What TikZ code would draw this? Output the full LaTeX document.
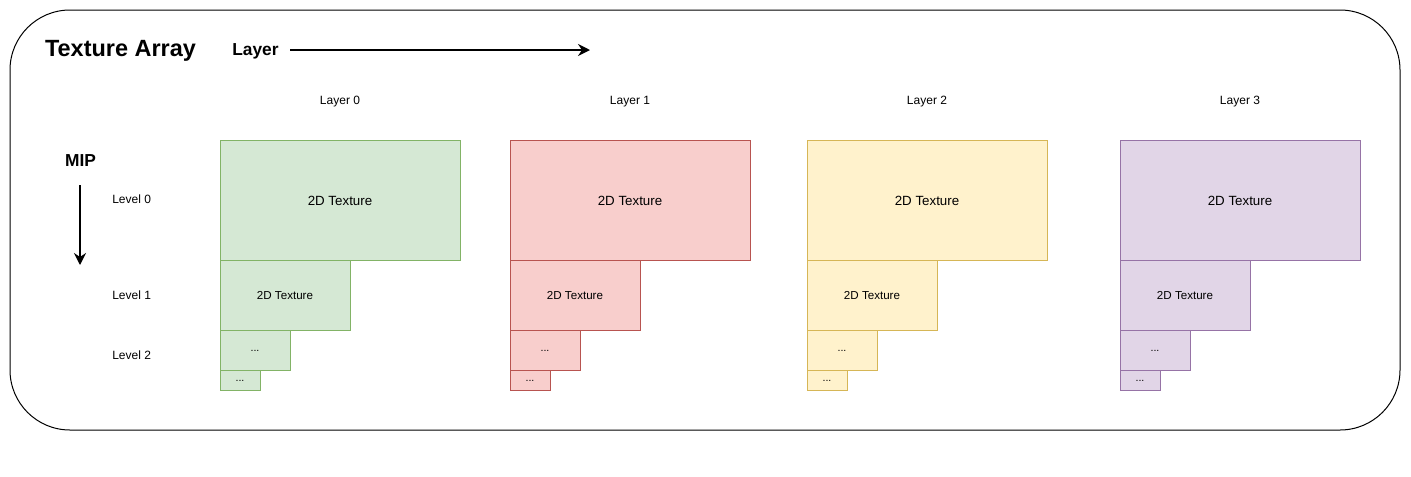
\documentclass[tikz,border=0pt]{standalone}
\usepackage{fontspec}
\setmainfont{Liberation Sans}
\usepackage{xcolor}
\usepackage{tikz}
\usetikzlibrary{arrows.meta}

\definecolor{grnfill}{HTML}{D5E8D4}
\definecolor{grnline}{HTML}{82B366}
\definecolor{redfill}{HTML}{F8CECC}
\definecolor{redline}{HTML}{B85450}
\definecolor{ylwfill}{HTML}{FFF2CC}
\definecolor{ylwline}{HTML}{D6B656}
\definecolor{prpfill}{HTML}{E1D5E7}
\definecolor{prpline}{HTML}{9673A6}

\begin{document}
\begin{tikzpicture}[x=0.75pt,y=0.75pt,yscale=-1,xscale=1,
  grnbox/.style={draw=grnline,fill=grnfill,line width=0.75pt},
  redbox/.style={draw=redline,fill=redfill,line width=0.75pt},
  ylwbox/.style={draw=ylwline,fill=ylwfill,line width=0.75pt},
  prpbox/.style={draw=prpline,fill=prpfill,line width=0.75pt},
  bigtex/.style={inner sep=0.75pt,font=\fontsize{10}{12}\selectfont},
  midtex/.style={inner sep=0.75pt,font=\fontsize{8.7}{10}\selectfont},
  dots/.style={inner sep=0.75pt,font=\fontsize{8}{10}\selectfont},
  lbl/.style={inner sep=0.75pt,font=\fontsize{9}{11}\selectfont},
  axis/.style={line width=1.5pt,-{Stealth[length=9pt,width=9pt,inset=3pt]}}]

\useasboundingbox (0,0) rectangle (1411,476);

% outer frame
\draw [line width=0.75pt,rounded corners=45pt] (10,10) rectangle (1400,430) ;

% headings
\node (texArray) at (120.5,51) [inner sep=0.75pt,font=\fontsize{17.6}{20}\selectfont\bfseries] {Texture Array};
\node (layerLbl) at (255.5,51) [inner sep=0.75pt,font=\fontsize{13}{16}\selectfont\bfseries] {Layer};
\node (mipLbl) at (80.5,161) [inner sep=0.75pt,font=\fontsize{13}{16}\selectfont\bfseries] {MIP};

\coordinate (layerA) at (290,50);
\coordinate (layerB) at (590,50);
\draw [axis] (layerA) -- (layerB) ;

\coordinate (mipA) at (80,185);
\coordinate (mipB) at (80,265);
\draw [axis] (mipA) -- (mipB) ;

% layer captions
\node (layer0) at (340,101.5) [lbl] {Layer 0};
\node (layer1) at (630,101.5) [lbl] {Layer 1};
\node (layer2) at (927,101.5) [lbl] {Layer 2};
\node (layer3) at (1240,101.5) [lbl] {Layer 3};

% level captions
\node (level0) at (111,199.5) [lbl,anchor=west] {Level 0};
\node (level1) at (111,295.5) [lbl,anchor=west] {Level 1};
\node (level2) at (111,355.5) [lbl,anchor=west] {Level 2};

% layer 0
\draw [grnbox] (220,140) rectangle (460,260) ;
\draw [grnbox] (220,260) rectangle (350,330) ;
\draw [grnbox] (220,330) rectangle (290,370) ;
\draw [grnbox] (220,370) rectangle (260,390) ;
\node (g0) at (340,200.5) [bigtex] {2D Texture};
\node (g1) at (285,295.5) [midtex] {2D Texture};
\node (g2) at (255,351) [dots] {...};
\node (g3) at (240,381) [dots] {...};

% layer 1
\draw [redbox] (510,140) rectangle (750,260) ;
\draw [redbox] (510,260) rectangle (640,330) ;
\draw [redbox] (510,330) rectangle (580,370) ;
\draw [redbox] (510,370) rectangle (550,390) ;
\node (r0) at (630,200.5) [bigtex] {2D Texture};
\node (r1) at (575,295.5) [midtex] {2D Texture};
\node (r2) at (545,351) [dots] {...};
\node (r3) at (530,381) [dots] {...};

% layer 2
\draw [ylwbox] (807,140) rectangle (1047,260) ;
\draw [ylwbox] (807,260) rectangle (937,330) ;
\draw [ylwbox] (807,330) rectangle (877,370) ;
\draw [ylwbox] (807,370) rectangle (847,390) ;
\node (y0) at (927,200.5) [bigtex] {2D Texture};
\node (y1) at (872,295.5) [midtex] {2D Texture};
\node (y2) at (842,351) [dots] {...};
\node (y3) at (827,381) [dots] {...};

% layer 3
\draw [prpbox] (1120,140) rectangle (1360,260) ;
\draw [prpbox] (1120,260) rectangle (1250,330) ;
\draw [prpbox] (1120,330) rectangle (1190,370) ;
\draw [prpbox] (1120,370) rectangle (1160,390) ;
\node (p0) at (1240,200.5) [bigtex] {2D Texture};
\node (p1) at (1185,295.5) [midtex] {2D Texture};
\node (p2) at (1155,351) [dots] {...};
\node (p3) at (1140,381) [dots] {...};

\end{tikzpicture}
\end{document}
